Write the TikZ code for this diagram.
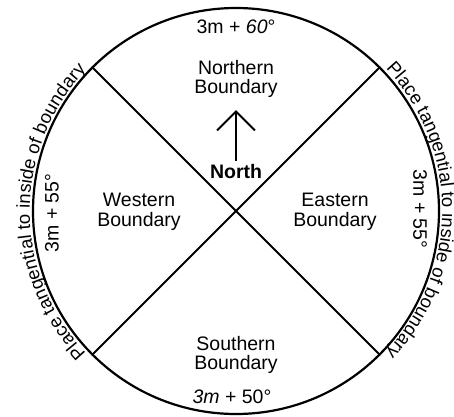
\documentclass[tikz,border=0pt]{standalone}
\usepackage{fontspec}
\setmainfont{Liberation Sans}
\usetikzlibrary{decorations.text,arrows.meta}
\begin{document}
\begin{tikzpicture}[x=1pt,y=1pt,
  lbl/.style={font=\fontsize{19.5}{19.5}\selectfont, align=center, inner sep=0pt},
  edge/.style={line width=2pt},
  curv/.style={decorate, decoration={text along path, text align=center, raise=2.5pt,
     text={|\fontsize{18.5}{20}\selectfont|Place tangential to inside of boundary}}}]
\useasboundingbox (-236,-205) rectangle (218,211);
\node[circle, draw, line width=2.2pt, minimum size=406pt, inner sep=0pt] (C) at (0,0) {};
\draw[edge] (C.135) -- (C.315);
\draw[edge] (C.45) -- (C.225);
\node[lbl] (top) at (0,184) {3m + \textit{60}°};
\node[lbl] (bot) at (-4,-186) {\textit{3m} + 50°};
\node[lbl] (nb) at (0,132) {Northern\\Boundary};
\node[lbl] (sb) at (0,-144) {Southern\\Boundary};
\node[lbl] (wb) at (-97,-1) {Western\\Boundary};
\node[lbl] (eb) at (99,-1) {Eastern\\Boundary};
\node[lbl, font=\fontsize{19.5}{20}\selectfont\bfseries] (north) at (0,39) {North};
\coordinate (tip) at (0,101);
\draw[edge, shorten <=4pt, -{Straight Barb[length=19pt,width=38pt]}] (north.north) -- (tip);
\node[lbl, rotate=90] (wl) at (-184,-2) {3m + 55°};
\node[lbl, rotate=-90] (el) at (184,2) {3m + 55°};
\path[curv] (C.225) arc[start angle=225, end angle=135, radius=203];
\path[curv] (C.45) arc[start angle=45, end angle=-45, radius=203];
\end{tikzpicture}
\end{document}
